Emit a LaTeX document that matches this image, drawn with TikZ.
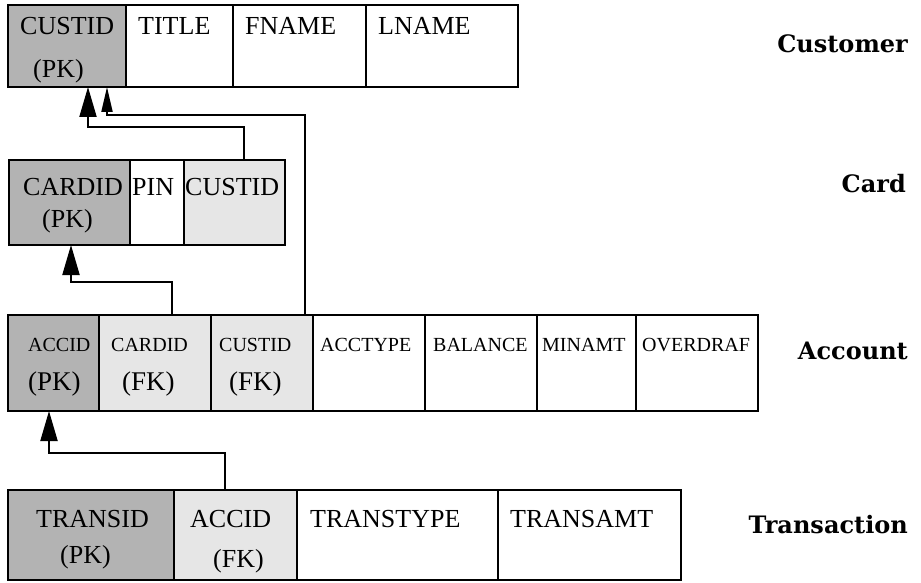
\documentclass[tikz,border=0pt]{standalone}
\usepackage{fontspec}
\setmainfont{Liberation Serif}
\newfontfamily\labelfont{DejaVu Serif}
\usetikzlibrary{arrows.meta}
\definecolor{pkfill}{HTML}{B3B3B3}
\definecolor{fkfill}{HTML}{E6E6E6}
\begin{document}
\begin{tikzpicture}[x=1pt,y=-1pt,
  cell/.style={draw, line width=2.4pt, rectangle, inner sep=0pt, outer sep=0pt, anchor=north west},
  pkcell/.style={cell, fill=pkfill},
  fkcell/.style={cell, fill=fkfill},
  txt/.style={inner sep=0pt, anchor=base west, font=\fontsize{26}{26}\selectfont},
  small/.style={inner sep=0pt, anchor=base west, font=\fontsize{20}{20}\selectfont},
  key/.style={inner sep=0pt, anchor=base west, font=\fontsize{27}{27}\selectfont},
  tname/.style={inner sep=0pt, anchor=base east, font=\labelfont\bfseries\fontsize{24}{24}\selectfont},
  fk/.style={line width=2pt, -{Triangle[length=30pt,width=17pt]}},
  fksmall/.style={line width=2pt, -{Triangle[length=25pt,width=11pt]}}]
\useasboundingbox (0,0) rectangle (921,583);

% Customer
\node[pkcell, minimum width=118pt, minimum height=82pt] (cu1) at (8,5) {};
\node[cell, minimum width=107pt, minimum height=82pt] (cu2) at (126,5) {};
\node[cell, minimum width=133pt, minimum height=82pt] (cu3) at (233,5) {};
\node[cell, minimum width=152pt, minimum height=82pt] (cu4) at (366,5) {};
\node[txt] (cu1a) at (20,35) {CUSTID};
\node[txt] (cu1b) at (33,78) {(PK)};
\node[txt] (cu2a) at (138,35) {TITLE};
\node[txt] (cu3a) at (245,35) {FNAME};
\node[txt] (cu4a) at (378,35) {LNAME};
\node[tname] (lcu) at (908,53) {Customer};

% Card
\node[pkcell, minimum width=121pt, minimum height=85pt] (cd1) at (9,160) {};
\node[cell, minimum width=54pt, minimum height=85pt] (cd2) at (130,160) {};
\node[fkcell, minimum width=101pt, minimum height=85pt] (cd3) at (184,160) {};
\node[txt] (cd1a) at (23,195) {CARDID};
\node[txt] (cd1b) at (42,227) {(PK)};
\node[txt] (cd2a) at (132,195) {PIN};
\node[txt] (cd3a) at (185,195) {CUSTID};
\node[tname] (lcd) at (906,192) {Card};

% Account
\node[pkcell, minimum width=91pt, minimum height=96pt] (ac1) at (8,315) {};
\node[fkcell, minimum width=112pt, minimum height=96pt] (ac2) at (99,315) {};
\node[fkcell, minimum width=102pt, minimum height=96pt] (ac3) at (211,315) {};
\node[cell, minimum width=112pt, minimum height=96pt] (ac4) at (313,315) {};
\node[cell, minimum width=112pt, minimum height=96pt] (ac5) at (425,315) {};
\node[cell, minimum width=99pt, minimum height=96pt] (ac6) at (537,315) {};
\node[cell, minimum width=122pt, minimum height=96pt] (ac7) at (636,315) {};
\node[small] (ac1a) at (28,351) {ACCID};
\node[small] (ac2a) at (111,351) {CARDID};
\node[small] (ac3a) at (219,351) {CUSTID};
\node[small] (ac4a) at (320,351) {ACCTYPE};
\node[small] (ac5a) at (433,351) {BALANCE};
\node[small] (ac6a) at (542,351) {MINAMT};
\node[small] (ac7a) at (642,351) {OVERDRAF};
\node[key] (ac1b) at (28,390) {(PK)};
\node[key] (ac2b) at (122,390) {(FK)};
\node[key] (ac3b) at (229,390) {(FK)};
\node[tname] (lac) at (908,359) {Account};

% Transaction
\node[pkcell, minimum width=166pt, minimum height=90pt] (tr1) at (8,490) {};
\node[fkcell, minimum width=123pt, minimum height=90pt] (tr2) at (174,490) {};
\node[cell, minimum width=201pt, minimum height=90pt] (tr3) at (297,490) {};
\node[cell, minimum width=183pt, minimum height=90pt] (tr4) at (498,490) {};
\node[txt] (tr1a) at (36,527) {TRANSID};
\node[txt] (tr1b) at (60,563) {(PK)};
\node[txt] (tr2a) at (190,527) {ACCID};
\node[txt] (tr2b) at (213,567) {(FK)};
\node[txt] (tr3a) at (310,527) {TRANSTYPE};
\node[txt] (tr4a) at (510,527) {TRANSAMT};
\node[tname] (ltr) at (908,533) {Transaction};

% Foreign key references
\draw[fk] ([xshift=9.5pt]cd3.north) -- ++(0,-33) -| ([xshift=21pt]cu1.south);
\draw[fksmall] ([xshift=43pt]ac3.north) -- ++(0,-200) -| ([xshift=40pt]cu1.south);
\draw[fk] ([xshift=17pt]ac2.north) -- ++(0,-33) -| ([xshift=1.5pt]cd1.south);
\draw[fk] ([xshift=-10.5pt]tr2.north) -- ++(0,-37) -| ([xshift=-4.5pt]ac1.south);
\end{tikzpicture}
\end{document}
